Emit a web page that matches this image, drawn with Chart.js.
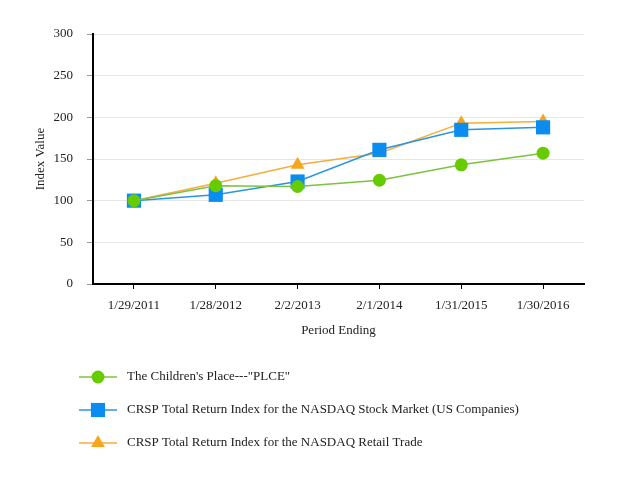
<!DOCTYPE html>
<html>
<head>
<meta charset="utf-8">
<script src="https://cdn.jsdelivr.net/npm/chart.js@4/dist/chart.umd.min.js"></script>
<style>
  html, body { margin: 0; padding: 0; background: #fff; }
  #wrap { width: 617px; height: 480px; }
</style>
</head>
<body>
<div id="wrap"><canvas id="chart" width="617" height="480"></canvas></div>
<script>
// Period labels (x axis)
var periods = ["1/29/2011", "1/28/2012", "2/2/2013", "2/1/2014", "1/31/2015", "1/30/2016"];

// Series values
var plce = [100, 118, 117, 124.5, 143, 157];
var nasdaqMarket = [100, 107, 123, 161, 185, 188];
var nasdaqRetail = [100, 121, 143, 157, 193, 195];

// Series names
var seriesNames = [
  "The Children's Place---\"PLCE\"",
  "CRSP Total Return Index for the NASDAQ Stock Market (US Companies)",
  "CRSP Total Return Index for the NASDAQ Retail Trade"
];

var serif = "'Liberation Serif', 'Times New Roman', serif";

// Legend drawn as a vertical list under the chart
var listLegend = {
  id: 'listLegend',
  afterDraw: function(chart) {
    var ctx = chart.ctx;
    var startY = 377, gap = 33;
    ctx.save();
    chart.data.datasets.forEach(function(ds, i) {
      var y = startY + i * gap;
      ctx.strokeStyle = ds.borderColor;
      ctx.lineWidth = 1.5;
      ctx.beginPath();
      ctx.moveTo(79, y);
      ctx.lineTo(117, y);
      ctx.stroke();
      ctx.fillStyle = ds.pointBackgroundColor;
      ctx.beginPath();
      drawMarker(ctx, ds.pointStyle, ds.pointRadius, 98, y);
      ctx.fill();
      ctx.fillStyle = '#222';
      ctx.font = "13px " + serif;
      ctx.textBaseline = 'middle';
      ctx.textAlign = 'left';
      ctx.fillText(ds.label, 127, y);
    });
    ctx.restore();
  }
};

function drawMarker(ctx, style, r, x, y) {
  if (style == 'circle') {
    ctx.arc(x, y, r, 0, Math.PI * 2);
  } else if (style == 'rect') {
    var s = Math.SQRT1_2 * r;
    ctx.rect(x - s, y - s, 2 * s, 2 * s);
  } else if (style == 'triangle') {
    ctx.moveTo(x, y - r);
    ctx.lineTo(x + Math.sin(Math.PI * 2 / 3) * r, y + r / 2);
    ctx.lineTo(x - Math.sin(Math.PI * 2 / 3) * r, y + r / 2);
    ctx.closePath();
  }
}

var el = document.getElementById("chart");
var chart = new Chart(el, {
  type: 'line',
  data: {
    labels: periods,
    datasets: [
      {
        label: seriesNames[0],
        data: plce,
        borderColor: "#7cc242",
        backgroundColor: "#66cc00",
        pointBackgroundColor: "#66cc00",
        pointBorderWidth: 0,
        pointStyle: 'circle',
        pointRadius: 6.5,
        borderWidth: 1.5
      }, {
        label: seriesNames[1],
        data: nasdaqMarket,
        borderColor: "#2a95e0",
        backgroundColor: "#0a8cf0",
        pointBackgroundColor: "#0a8cf0",
        pointBorderWidth: 0,
        pointStyle: 'rect',
        pointRadius: 10,
        borderWidth: 1.5
      }, {
        label: seriesNames[2],
        data: nasdaqRetail,
        borderColor: "#f5ad3c",
        backgroundColor: "#f7a51c",
        pointBackgroundColor: "#f7a51c",
        pointBorderWidth: 0,
        pointStyle: 'triangle',
        pointRadius: 8,
        borderWidth: 1.5
      }
    ]
  },
  options: {
    responsive: false,
    animation: false,
    layout: { padding: { left: 0, right: 33, top: 34, bottom: 130 } },
    plugins: {
      legend: { display: false },
      tooltip: { enabled: false }
    },
    scales: {
      x: {
        offset: true,
        grid: { drawOnChartArea: false, offset: false, tickLength: 5, color: '#000' },
        border: { color: '#000', width: 2 },
        ticks: { color: '#222', font: { family: serif, size: 13 }, padding: 9, maxRotation: 0 },
        title: { display: true, text: 'Period Ending', color: '#222', font: { family: serif, size: 13 }, padding: { top: 0, bottom: 12 } },
        afterFit: function(scale) { scale.height = 66; }
      },
      y: {
        min: 0,
        max: 300,
        grid: { color: '#e6e6e6', tickColor: '#999', tickLength: 6 },
        border: { color: '#000', width: 2 },
        ticks: { stepSize: 50, color: '#222', font: { family: serif, size: 13 }, padding: 14 },
        title: { display: true, text: 'Index Value', color: '#222', font: { family: serif, size: 13 }, padding: { top: 33 } },
        afterFit: function(scale) { scale.width = 93; }
      }
    }
  },
  plugins: [listLegend]
});
</script>
</body>
</html>
